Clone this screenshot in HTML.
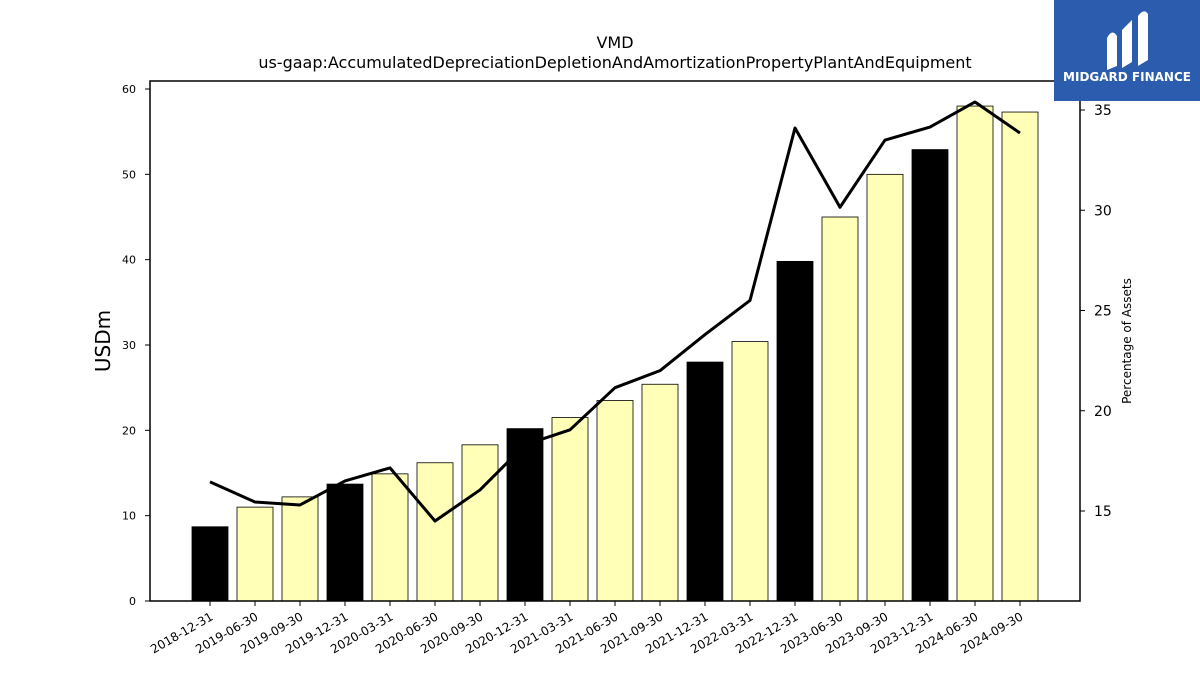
<!DOCTYPE html>
<html><head><meta charset="utf-8"><style>
body{margin:0;background:#fff;font-family:"Liberation Sans","DejaVu Sans",sans-serif}
svg text{font-family:"DejaVu Sans","Liberation Sans",sans-serif}
</style></head><body>
<svg width="1200" height="675" viewBox="0 0 1200 675">
<g id="g"></g>
</svg>
<script>
const categories=["2018-12-31","2019-06-30","2019-09-30","2019-12-31","2020-03-31","2020-06-30","2020-09-30","2020-12-31","2021-03-31","2021-06-30","2021-09-30","2021-12-31","2022-03-31","2022-12-31","2023-06-30","2023-09-30","2023-12-31","2024-06-30","2024-09-30"];
const barValues=[8.7,11.0,12.2,13.7,14.9,16.2,18.3,20.2,21.5,23.5,25.4,28.0,30.4,39.8,45.0,50.0,52.9,58.0,57.3];
const annual=[1,0,0,1,0,0,0,1,0,0,0,1,0,1,0,0,1,0,0];
const pctValues=[16.45,15.45,15.3,16.5,17.15,14.5,16.05,18.3,19.05,21.15,22.0,23.8,25.5,34.1,30.15,33.5,34.15,35.4,33.85];
const leftTicks=[0,10,20,30,40,50,60];
const rightTicks=[15,20,25,30,35];
const NS="http://www.w3.org/2000/svg";
const g=document.getElementById('g');
const L=150,R=1080,T=81,B=601;
const yL=v=>601-v*(512/60);
const yR=v=>511-(v-15)*20.05;
const xC=i=>210+i*45;
function el(t,a,txt){const e=document.createElementNS(NS,t);for(const k in a)e.setAttribute(k,a[k]);if(txt!=null)e.textContent=txt;g.appendChild(e);return e;}
barValues.forEach((v,i)=>{
 const b=el('rect',{x:xC(i)-18,y:yL(v),width:36,height:B-yL(v),fill:annual[i]?'#000':'#ffffb8',stroke:'#000','stroke-width':0.8});
 
 
});
const pts=pctValues.map((v,i)=>xC(i)+','+yR(v)).join(' ');
const ln=el('polyline',{points:pts,fill:'none',stroke:'#000','stroke-width':3,'stroke-linejoin':'round'});


const fr=el('rect',{x:L,y:T,width:R-L,height:B-T,fill:'none',stroke:'#000','stroke-width':1.5});


leftTicks.forEach(v=>{
 el('line',{x1:L-5,x2:L,y1:yL(v),y2:yL(v),stroke:'#000'});
 const t=el('text',{x:L-14,y:yL(v)+4,'text-anchor':'end','font-size':11},v);
 
 
});
rightTicks.forEach(v=>{
 el('line',{x1:R,x2:R+5,y1:yR(v),y2:yR(v),stroke:'#000'});
 const t=el('text',{x:R+14,y:yR(v)+5,'font-size':14},v);
 
 
});
categories.forEach((c,i)=>{
 el('line',{x1:xC(i),x2:xC(i),y1:B,y2:B+5,stroke:'#000'});
 const t=el('text',{x:xC(i)+4,y:B+18,'text-anchor':'end','font-size':12,transform:`rotate(-30 ${xC(i)+4} ${B+18})`},c);
 
 
});
</script>
<svg style="position:absolute;left:0;top:0" width="1200" height="675">
<text x="615" y="48" text-anchor="middle" font-size="16">VMD</text>
<text x="615" y="68" text-anchor="middle" font-size="16">us-gaap:AccumulatedDepreciationDepletionAndAmortizationPropertyPlantAndEquipment</text>
<text x="110" y="341" text-anchor="middle" font-size="20" transform="rotate(-90 110 341)">USDm</text>
<text x="1131" y="341" text-anchor="middle" font-size="12" transform="rotate(-90 1131 341)">Percentage of Assets</text>
<g>
<rect x="1054" y="0" width="146" height="101" fill="#2b5cad"/>
<path d="M1107 70 L1107 38 Q1112 28 1117 36 L1117 66 Z M1122 68 L1122 30 L1132 20 L1132 62 Z M1138 66 L1138 16 Q1144 8 1148 14 L1148 60 Z" fill="#fff"/>
<text x="1127" y="81" text-anchor="middle" font-size="12" font-weight="bold" fill="#fff">MIDGARD FINANCE</text>
</g>
</svg>
</body></html>
